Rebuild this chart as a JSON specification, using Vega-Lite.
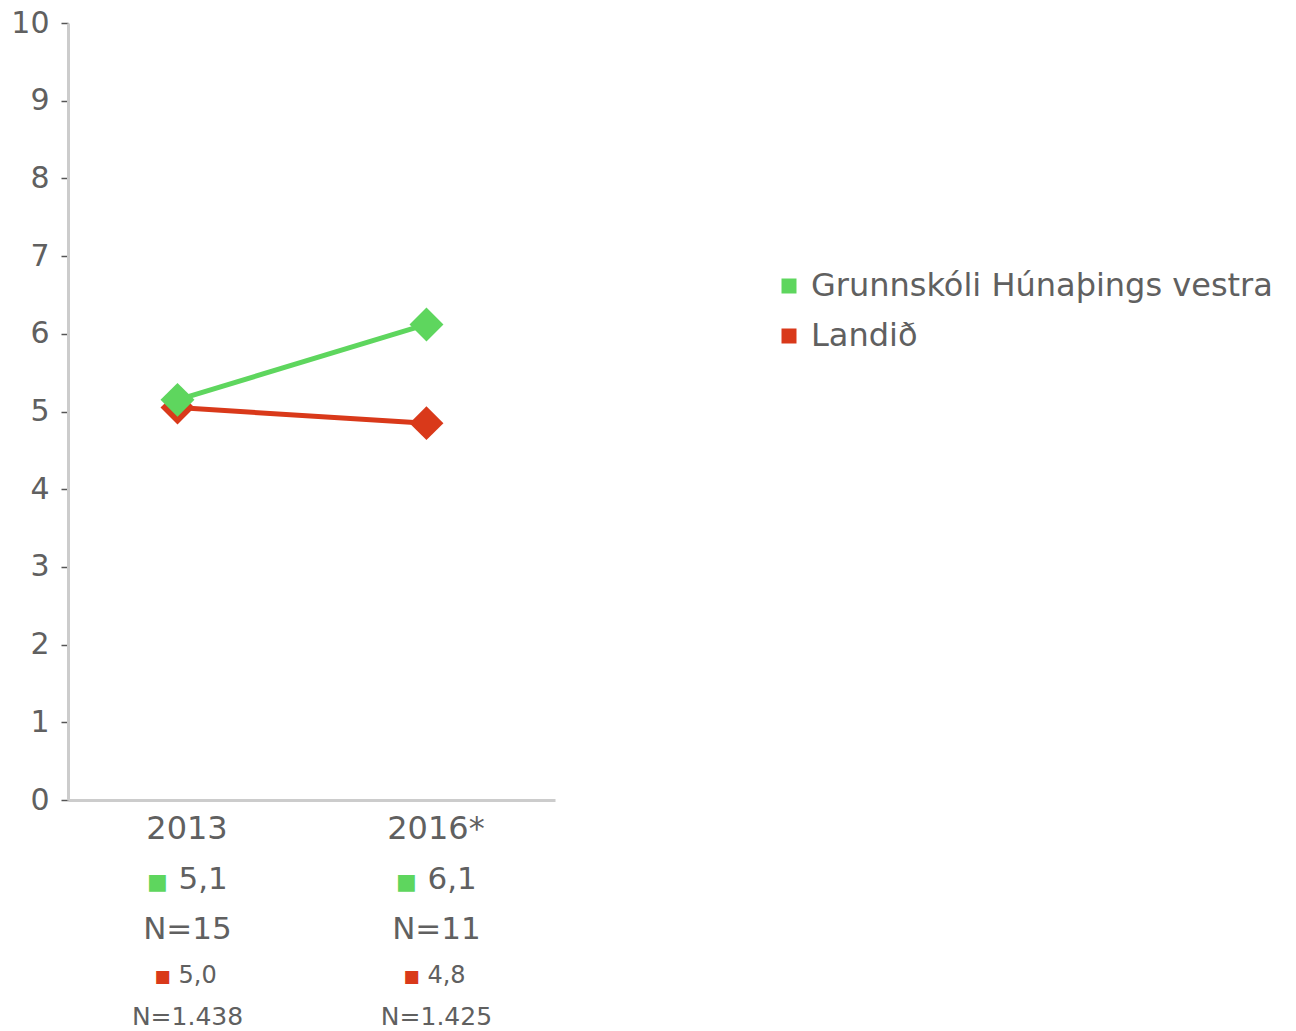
{
  "$schema": "https://vega.github.io/schema/vega-lite/v6.json",
  "width": 487,
  "height": 777,
  "autosize": {"type": "none"},
  "padding": {"left": 68, "top": 23, "right": 741, "bottom": 231},
  "background": "white",
  "config": {
    "font": "DejaVu Sans",
    "view": {"stroke": null},
    "axis": {"grid": false, "title": null, "labelColor": "#606060", "labelFont": "DejaVu Sans", "labelFontWeight": 400, "domainColor": "#cccccc", "domainWidth": 3}
  },
  "datasets": {
    "series": [
      {"year": "2013", "series": "Landið", "value": 5.05},
      {"year": "2016*", "series": "Landið", "value": 4.85},
      {"year": "2013", "series": "Grunnskóli Húnaþings vestra", "value": 5.15},
      {"year": "2016*", "series": "Grunnskóli Húnaþings vestra", "value": 6.12}
    ],
    "cols": [
      {"year": "2013", "gval": "5,1", "gn": "N=15", "rval": "5,0", "rn": "N=1.438"},
      {"year": "2016*", "gval": "6,1", "gn": "N=11", "rval": "4,8", "rn": "N=1.425"}
    ]
  },
  "encoding": {
    "x": {
      "field": "year", "type": "ordinal",
      "scale": {"type": "point", "padding": 0.478, "align": 0.46},
      "axis": {"ticks": false, "labelAngle": 0, "labelPadding": 13, "labelOffset": 9, "labelFontSize": 32}
    }
  },
  "layer": [
    {
      "data": {"name": "series"},
      "mark": {"type": "line", "strokeWidth": 5},
      "encoding": {
        "y": {"field": "value", "type": "quantitative", "scale": {"domain": [0, 10]},
          "axis": {"values": [0,1,2,3,4,5,6,7,8,9,10], "format": "d", "tickColor": "#555555", "tickSize": 7, "tickWidth": 1.5, "labelPadding": 12, "labelFontSize": 30}},
        "color": {
          "field": "series", "type": "nominal",
          "scale": {"domain": ["Grunnskóli Húnaþings vestra", "Landið"], "range": ["#5ed65e", "#d9391a"]},
          "legend": {
            "title": null, "orient": "none", "legendX": 705, "legendY": 247,
            "symbolType": "square", "symbolSize": 225, "symbolStrokeWidth": 0, "symbolOpacity": 1,
            "labelFontSize": 32, "labelColor": "#606060", "labelFont": "DejaVu Sans", "labelFontWeight": 400, "labelOffset": 6, "rowPadding": 18, "labelLimit": 600
          }
        },
        "detail": {"field": "series"}
      }
    },
    {
      "data": {"name": "series"},
      "mark": {"type": "point", "shape": "diamond", "filled": true, "size": 1150, "opacity": 1},
      "encoding": {
        "y": {"field": "value", "type": "quantitative"},
        "color": {"field": "series", "type": "nominal", "legend": null}
      }
    },
    {
      "data": {"name": "cols"},
      "mark": {"type": "text", "text": "■", "fontSize": 22, "color": "#5ed65e", "dy": 82, "dx": -20, "baseline": "middle", "font": "DejaVu Sans"},
      "encoding": {"y": {"datum": 0}}
    },
    {
      "data": {"name": "cols"},
      "mark": {"type": "text", "fontSize": 31, "color": "#606060", "dy": 80, "dx": 1, "align": "left", "baseline": "middle"},
      "encoding": {"y": {"datum": 0}, "text": {"field": "gval"}}
    },
    {
      "data": {"name": "cols"},
      "mark": {"type": "text", "fontSize": 31, "color": "#606060", "dy": 130, "dx": 10, "align": "center", "baseline": "middle"},
      "encoding": {"y": {"datum": 0}, "text": {"field": "gn"}}
    },
    {
      "data": {"name": "cols"},
      "mark": {"type": "text", "text": "■", "fontSize": 17, "color": "#d9391a", "dy": 177, "dx": -15, "baseline": "middle", "font": "DejaVu Sans"},
      "encoding": {"y": {"datum": 0}}
    },
    {
      "data": {"name": "cols"},
      "mark": {"type": "text", "fontSize": 24, "color": "#606060", "dy": 176, "dx": 1, "align": "left", "baseline": "middle"},
      "encoding": {"y": {"datum": 0}, "text": {"field": "rval"}}
    },
    {
      "data": {"name": "cols"},
      "mark": {"type": "text", "fontSize": 25, "color": "#606060", "dy": 217, "dx": 10, "align": "center", "baseline": "middle"},
      "encoding": {"y": {"datum": 0}, "text": {"field": "rn"}}
    }
  ]
}
